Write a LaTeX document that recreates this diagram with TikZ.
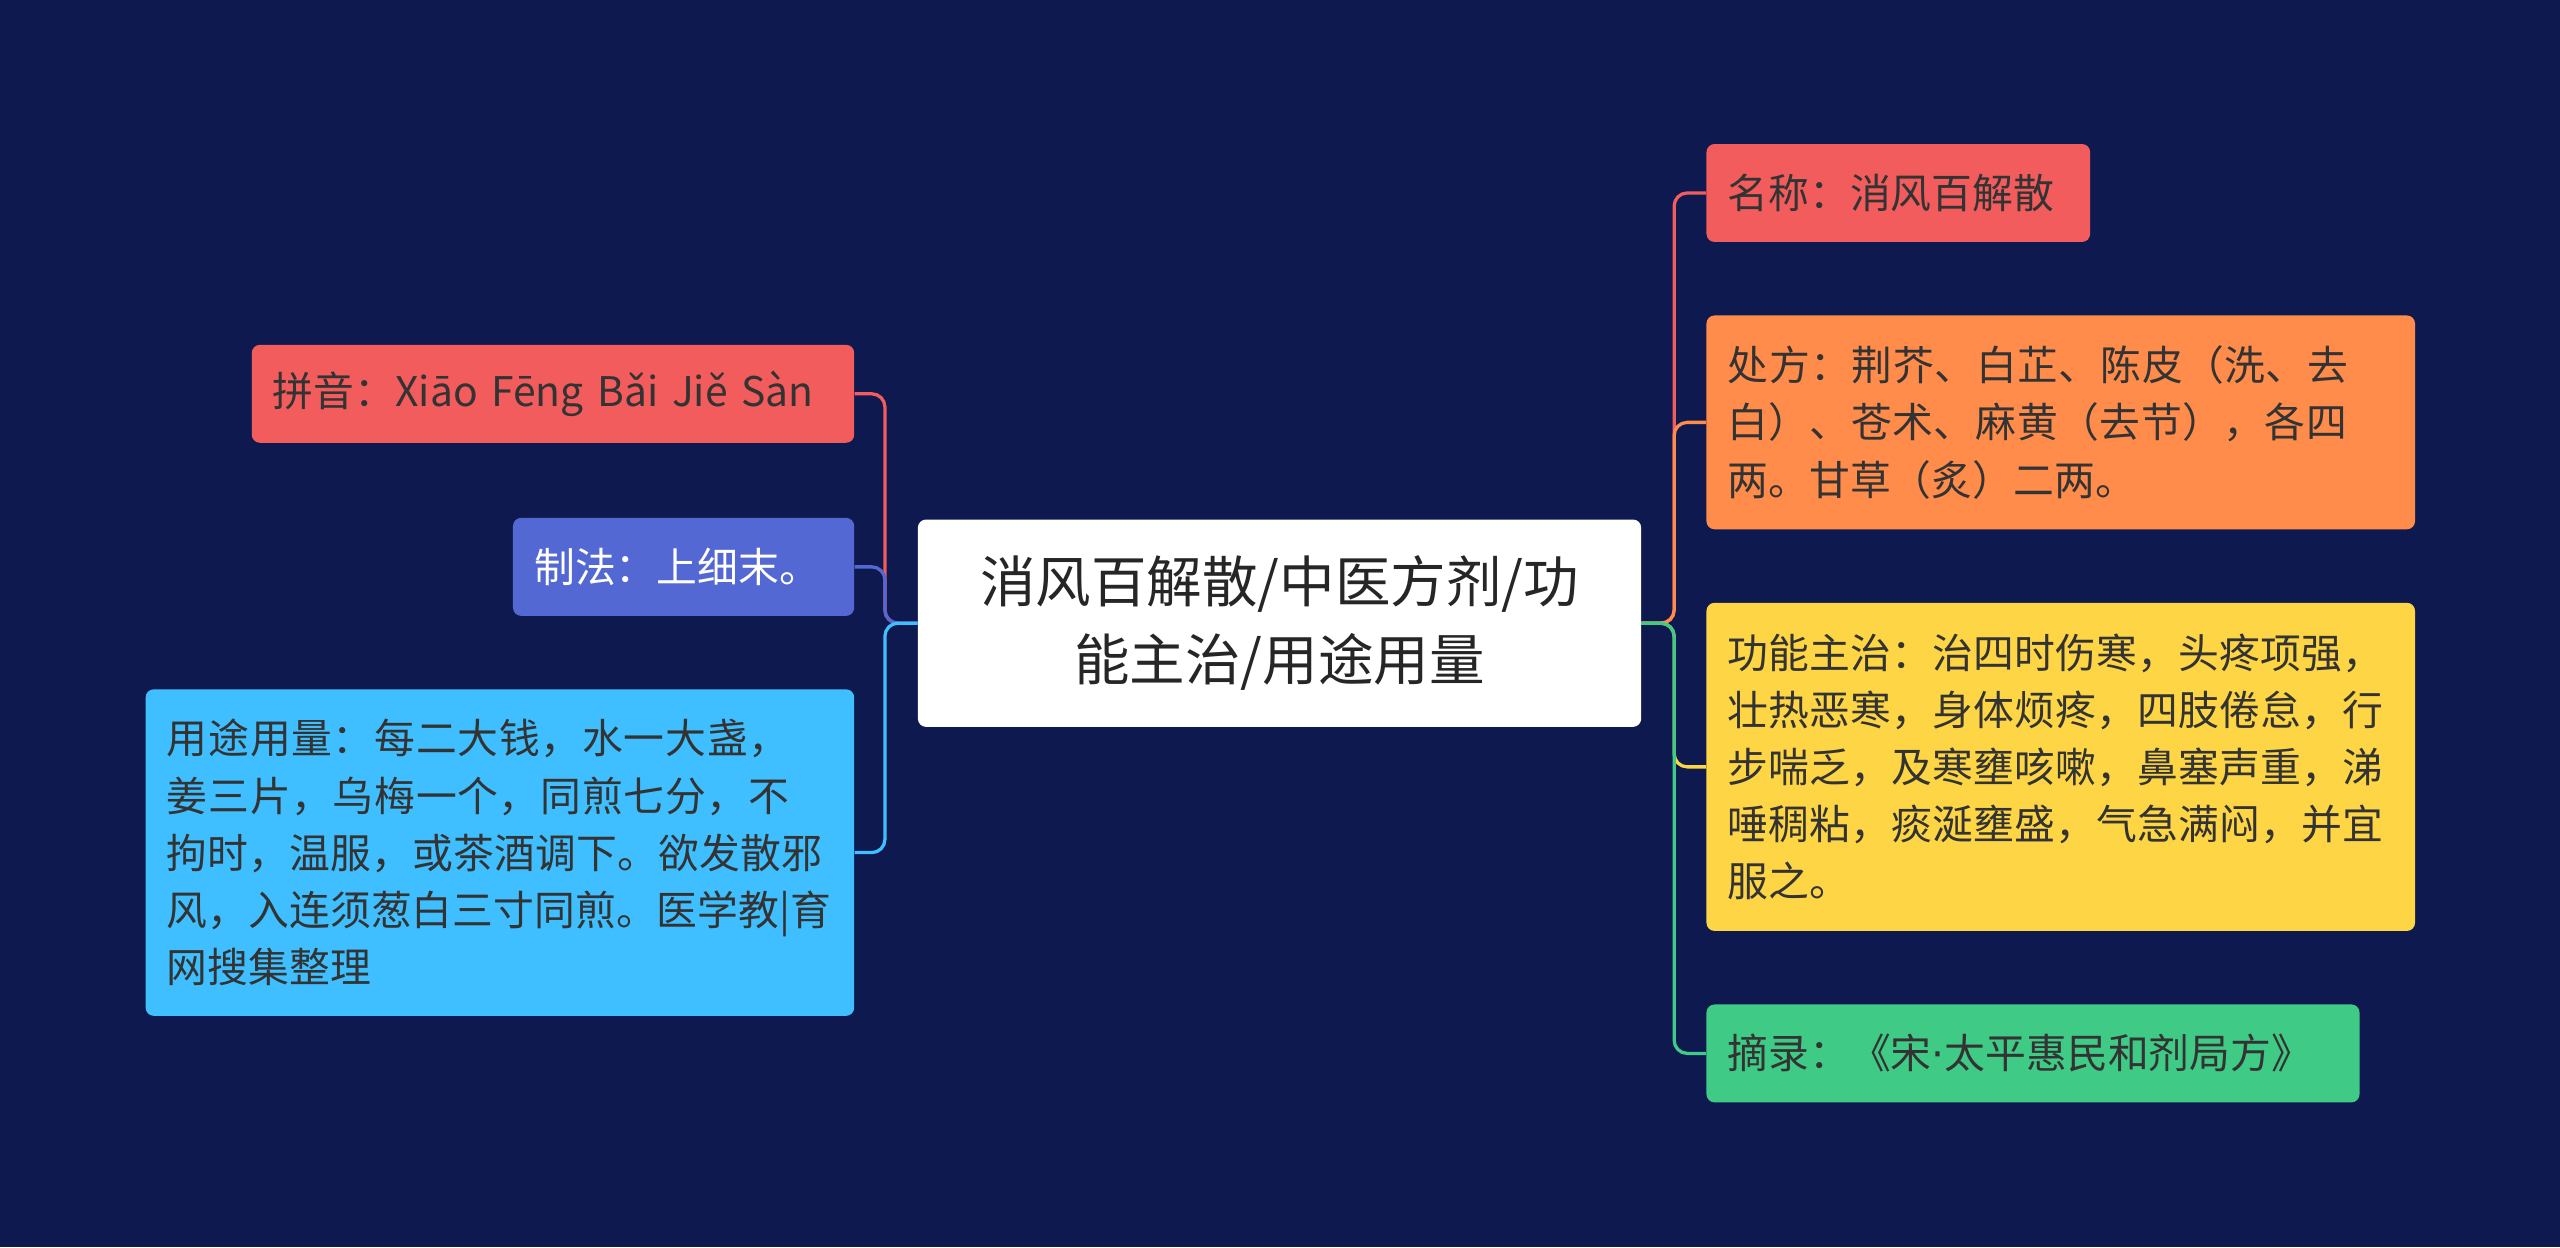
\documentclass[tikz,border=0pt]{standalone}
\usepackage{fontspec}
\setmainfont{Noto Sans CJK SC}
\XeTeXlinebreaklocale "zh"
\XeTeXlinebreakskip=0pt plus 1pt
\begin{document}
\begin{tikzpicture}[x=1pt,y=-1pt,
  box/.style={rounded corners=5pt,anchor=north west,inner xsep=13pt,inner ysep=0pt,align=left,font=\fontsize{25}{35}\selectfont,text=black!80},
  con/.style={line width=2pt,rounded corners=8pt}]
\definecolor{bg}{HTML}{0E1A4F}
\definecolor{cr}{HTML}{F25C5C}
\definecolor{co}{HTML}{FF8C4B}
\definecolor{cy}{HTML}{FDD545}
\definecolor{cg}{HTML}{3FCB86}
\definecolor{cp}{HTML}{5468D4}
\definecolor{cb}{HTML}{3FBFFF}
\fill[bg] (0,0) rectangle (1568,764);
\useasboundingbox (0,0) rectangle (1568,764);
\node[box,fill=white,minimum width=443,minimum height=127,align=center,font=\fontsize{34}{48}\selectfont,text=black!85] (c) at (562,318) {消风百解散/中医方剂/功\\能主治/用途用量};
\node[box,fill=cr,minimum width=235,minimum height=60,text width=209] (n1) at (1045,88) {名称：消风百解散};
\node[box,fill=co,minimum width=434,minimum height=131,text width=408] (n2) at (1045,193) {处方：荆芥、白芷、陈皮（洗、去白）、苍术、麻黄（去节），各四两。甘草（炙）二两。};
\node[box,fill=cy,minimum width=434,minimum height=201,text width=408] (n3) at (1045,369) {功能主治：治四时伤寒，头疼项强，壮热恶寒，身体烦疼，四肢倦怠，行步喘乏，及寒壅咳嗽，鼻塞声重，涕唾稠粘，痰涎壅盛，气急满闷，并宜服之。};
\node[box,fill=cg,minimum width=400,minimum height=60,text width=374] (n4) at (1045,615) {摘录：《宋{\fontspec{DejaVu Sans}·}太平惠民和剂局方》};
\node[box,fill=cr,minimum width=369,minimum height=60,text width=343] (m1) at (154,211) {拼音：Xiāo Fēng Bǎi Jiě Sàn};
\node[box,fill=cp,minimum width=209,minimum height=60,text width=183,text=white] (m2) at (314,317) {制法：上细末。};
\node[box,fill=cb,minimum width=434,minimum height=200,text width=408] (m3) at (89,422) {用途用量：每二大钱，水一大盏，姜三片，乌梅一个，同煎七分，不拘时，温服，或茶酒调下。欲发散邪风，入连须葱白三寸同煎。医学教|育网搜集整理};
\draw[con,cr] (c.east) -- ++(20,0) |- (n1.west);
\draw[con,co] (c.east) -- ++(20,0) |- (n2.west);
\draw[con,cy] (c.east) -- ++(20,0) |- (n3.west);
\draw[con,cg] (c.east) -- ++(20,0) |- (n4.west);
\draw[con,cr] (c.west) -- ++(-20,0) |- (m1.east);
\draw[con,cp] (c.west) -- ++(-20,0) |- (m2.east);
\draw[con,cb] (c.west) -- ++(-20,0) |- (m3.east);
\end{tikzpicture}
\end{document}
